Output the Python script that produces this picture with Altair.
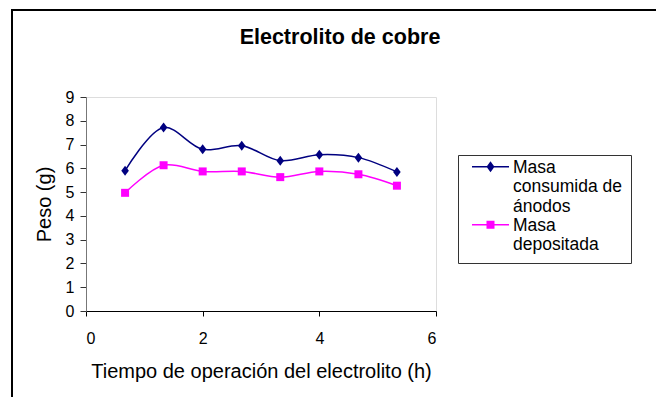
import altair as alt
import pandas as pd

# ---- data ----
hours = [0.67, 1.33, 2.0, 2.67, 3.33, 4.0, 4.67, 5.33]
masa_consumida = [5.90, 7.72, 6.80, 6.95, 6.32, 6.57, 6.45, 5.85]
masa_depositada = [4.97, 6.13, 5.87, 5.87, 5.63, 5.87, 5.75, 5.27]
series_names = ["Masa consumida de ánodos", "Masa depositada"]
series_colors = ["#000080", "#FF00FF"]
x_ticks = [0, 2, 4, 6]
y_ticks = [0, 1, 2, 3, 4, 5, 6, 7, 8, 9]

rows = []
for h, v in zip(hours, masa_consumida):
    rows.append({"t": h, "peso": v, "serie": series_names[0]})
for h, v in zip(hours, masa_depositada):
    rows.append({"t": h, "peso": v, "serie": series_names[1]})
df = pd.DataFrame(rows)

FONT = "Liberation Sans"
W, H = 350, 214

x_enc = alt.X("t:Q", scale=alt.Scale(domain=[0, 6], nice=False),
              axis=alt.Axis(values=x_ticks, format="d",
                            title="Tiempo de operación del electrolito (h)",
                            grid=False, tickSize=5, labelPadding=14, titlePadding=15,
                            labelFontSize=16, titleFontSize=20, titleFontWeight="normal",
                            domainColor="black", tickColor="black", labelColor="black",
                            titleColor="black"))
y_enc = alt.Y("peso:Q", scale=alt.Scale(domain=[0, 9], nice=False),
              axis=alt.Axis(values=y_ticks, format="d", title="Peso (g)", grid=False,
                            tickSize=6, labelPadding=6, titlePadding=11,
                            labelFontSize=16, titleFontSize=20, titleFontWeight="normal",
                            domainColor="#777777", tickColor="#333333", labelColor="black",
                            titleColor="black"))

# legend symbols (pixel units, symbolSize=4 -> unit scale): a short line with the
# series marker, level with the first line of its label
legend_paths = [
    "M-3.75,-6.7H33.25V-5.3H-3.75Z M14.75,-11.5L18.75,-6L14.75,-0.5L10.75,-6Z",
    "M-3.75,-6.7H33.25V-5.3H-3.75Z M10.75,-10H18.75V-2H10.75Z",
]

base = alt.Chart(df)

legend_layer = base.transform_filter("false").mark_point(filled=True, opacity=1).encode(
    x=x_enc, y=y_enc,
    color=alt.Color(
        "serie:N",
        scale=alt.Scale(domain=series_names, range=series_colors),
        legend=alt.Legend(
            title=None, orient="none", legendX=372, legendY=58,
            strokeColor="#333333", fillColor="white", padding=9,
            symbolSize=4, symbolOpacity=1, labelOffset=28.5,
            labelFontSize=17.5, labelFont=FONT, labelColor="black", labelLimit=300,
            labelExpr="datum.label == 'Masa depositada' ? ['Masa', 'depositada'] : ['Masa', 'consumida de', 'ánodos']",
            labelBaseline="alphabetic", rowPadding=0,
        ),
    ),
    shape=alt.Shape("serie:N", scale=alt.Scale(domain=series_names, range=legend_paths)),
)

line_a = base.transform_filter(alt.datum.serie == series_names[0]).mark_line(
    interpolate="catmull-rom", strokeWidth=1.5, color=series_colors[0]
).encode(x=x_enc, y=y_enc)

line_b = base.transform_filter(alt.datum.serie == series_names[1]).mark_line(
    interpolate="catmull-rom", strokeWidth=1.5, color=series_colors[1]
).encode(x=x_enc, y=y_enc)

diamonds = base.transform_filter(alt.datum.serie == series_names[0]).mark_point(
    shape="M0,-1.25L0.95,0L0,1.25L-0.95,0Z", filled=True, size=64, opacity=1,
    color=series_colors[0]
).encode(x=x_enc, y=y_enc)

squares = base.transform_filter(alt.datum.serie == series_names[1]).mark_point(
    shape="square", filled=True, size=64, opacity=1, color=series_colors[1]
).encode(x=x_enc, y=y_enc)

frame = alt.Chart(pd.DataFrame({"k": [0]})).mark_rect(
    fill=None, stroke="black", strokeWidth=2
).encode(
    x=alt.value(-74), y=alt.value(-87), x2=alt.value(600), y2=alt.value(320)
)

chart = alt.layer(frame, line_a, line_b, diamonds, squares, legend_layer).properties(
    width=W, height=H,
    title=alt.TitleParams("Electrolito de cobre", font=FONT, fontSize=21.5,
                          fontWeight="bold", color="black", anchor="middle",
                          frame="group", dx=79, offset=-39),
    padding={"left": 86, "top": 97, "right": 220, "bottom": 86},
    autosize=alt.AutoSizeParams(type="none"),
    background="white",
).configure_view(stroke=None).configure(font=FONT)

chart.save("out.html", embed_options={"renderer": "svg", "actions": False})
